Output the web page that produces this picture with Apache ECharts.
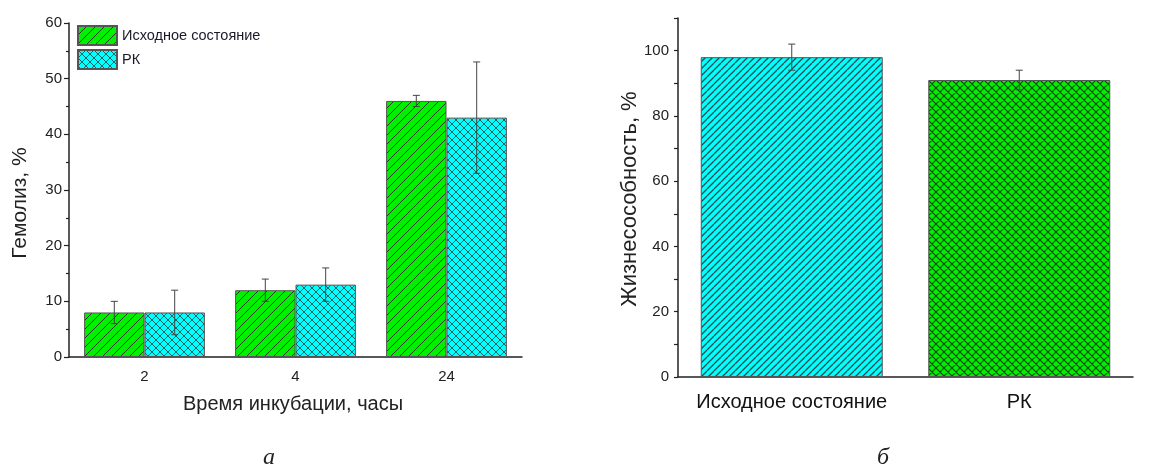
<!DOCTYPE html>
<html><head><meta charset="utf-8">
<script src="https://cdn.jsdelivr.net/npm/echarts@6/dist/echarts.min.js"></script>
<style>html,body{margin:0;padding:0;background:#fff}#c{width:1152px;height:468px}</style>
</head><body><div id="c"></div>
<script>
// ---- data ----
const hoursCategories = ['2', '4', '24'];
const hemolysisInitial = [8, 12, 46];
const hemolysisInitialErr = [2, 2, 1];
const hemolysisRK = [8, 13, 43];
const hemolysisRKErr = [4, 3, 10];

const viabilityCategories = ['Исходное состояние', 'РК'];
const viabilityValues = [98, 91];
const viabilityErr = [4, 3];

const seriesNames = ['Исходное состояние', 'РК'];

// ---- patterns ----
function makePattern(bg, line, s, cross, lw) {
  const c = document.createElement('canvas');
  c.width = s; c.height = s;
  const g = c.getContext('2d');
  g.fillStyle = bg; g.fillRect(0, 0, s, s);
  g.strokeStyle = line; g.lineWidth = lw;
  g.beginPath();
  for (let k = -1; k <= 1; k++) {
    g.moveTo(k * s, s); g.lineTo(s + k * s, 0);
    if (cross) { g.moveTo(k * s, 0); g.lineTo(s + k * s, s); }
  }
  g.stroke();
  return { image: c, repeat: 'repeat' };
}
const GREEN = '#00f000', CYAN = '#00ffff';
const pGreenHatch = makePattern(GREEN, '#1b3b1b', 9, false, 1);
const pCyanCross = makePattern(CYAN, '#1f4f4f', 8, true, 0.9);
const pCyanHatch = makePattern(CYAN, '#1a4c4c', 7, false, 1.3);
const pGreenCross = makePattern(GREEN, '#124012', 8, true, 1.1);

const FONT = 'Liberation Sans, Arial, sans-serif';
const AX = '#222';

function errRender(offsetFrac) {
  return function (params, api) {
    const x = api.value(0), v = api.value(1), e = api.value(2);
    const band = api.size([1, 0])[0];
    const c = api.coord([x, v]);
    const cx = c[0] + band * offsetFrac;
    const top = api.coord([x, v + e])[1];
    const bot = api.coord([x, v - e])[1];
    const cap = 3.5;
    const st = { stroke: '#444', lineWidth: 1 };
    return { type: 'group', children: [
      { type: 'line', shape: { x1: cx, y1: top, x2: cx, y2: bot }, style: st },
      { type: 'line', shape: { x1: cx - cap, y1: top, x2: cx + cap, y2: top }, style: st },
      { type: 'line', shape: { x1: cx - cap, y1: bot, x2: cx + cap, y2: bot }, style: st }
    ]};
  };
}

const chart = echarts.init(document.getElementById('c'), null, { renderer: 'canvas' });
const option = {
  animation: false,
  backgroundColor: '#fff',
  textStyle: { fontFamily: FONT },
  grid: [
    { left: 69, right: 630, top: 23, bottom: 111 },
    { left: 678, right: 19, top: 18, bottom: 91 }
  ],
  legend: {
    left: 77, top: 25, padding: 0, orient: 'vertical', itemWidth: 39, itemHeight: 19, itemGap: 3,
    icon: 'rect', data: seriesNames,
    textStyle: { fontFamily: FONT, fontSize: 14.5, color: '#1a1a2a' }
  },
  xAxis: [
    { type: 'category', gridIndex: 0, data: hoursCategories,
      axisLine: { lineStyle: { color: AX, width: 1.5 } },
      axisTick: { alignWithLabel: true, length: 5, lineStyle: { color: AX, width: 1.2 } },
      axisLabel: { interval: 0, fontFamily: FONT, fontSize: 15, color: '#222', margin: 12 } },
    { type: 'category', gridIndex: 0, data: hoursCategories, position: 'bottom',
      axisLine: { show: false }, axisLabel: { show: false },
      axisTick: { interval: 0, alignWithLabel: false, length: 5, lineStyle: { color: AX, width: 1.2 } } },
    { type: 'category', gridIndex: 1, data: viabilityCategories,
      axisLine: { lineStyle: { color: AX, width: 1.5 } },
      axisTick: { interval: 0, alignWithLabel: true, length: 6, lineStyle: { color: AX, width: 1.2 } },
      axisLabel: { interval: 0, fontFamily: FONT, fontSize: 20, color: '#111', margin: 15 } },
    { type: 'category', gridIndex: 1, data: viabilityCategories, position: 'bottom',
      axisLine: { show: false }, axisLabel: { show: false },
      axisTick: { interval: 0, alignWithLabel: false, length: 6, lineStyle: { color: AX, width: 1.2 } } }
  ],
  yAxis: [
    { type: 'value', gridIndex: 0, min: 0, max: 60, interval: 10,
      splitLine: { show: false },
      axisLine: { show: true, lineStyle: { color: AX, width: 1.5 } },
      axisTick: { show: true, length: 5, lineStyle: { color: AX, width: 1.2 } },
      minorTick: { show: true, splitNumber: 2, length: 3, lineStyle: { color: AX, width: 1.2 } },
      axisLabel: { fontFamily: FONT, fontSize: 15, color: '#222', margin: 7 } },
    { type: 'value', gridIndex: 1, min: 0, max: 110, interval: 10,
      splitLine: { show: false },
      axisLine: { show: true, lineStyle: { color: AX, width: 1.5 } },
      axisTick: { show: true, length: 4, lineStyle: { color: AX, width: 1.2 } },
      axisLabel: { fontFamily: FONT, fontSize: 15, color: '#222', margin: 9,
        formatter: v => (v % 20 === 0 && v <= 100) ? String(v) : '' } }
  ],
  series: [
    { name: seriesNames[0], type: 'bar', xAxisIndex: 0, yAxisIndex: 0, data: hemolysisInitial,
      barGap: '0%', barCategoryGap: '20%',
      itemStyle: { color: pGreenHatch, borderColor: '#555', borderWidth: 1 } },
    { name: seriesNames[1], type: 'bar', xAxisIndex: 0, yAxisIndex: 0, data: hemolysisRK,
      barGap: '0%', barCategoryGap: '20%',
      itemStyle: { color: pCyanCross, borderColor: '#555', borderWidth: 1 } },
    { type: 'custom', xAxisIndex: 0, yAxisIndex: 0, z: 5, silent: true,
      renderItem: errRender(-0.2),
      data: hemolysisInitial.map((v, i) => [i, v, hemolysisInitialErr[i]]) },
    { type: 'custom', xAxisIndex: 0, yAxisIndex: 0, z: 5, silent: true,
      renderItem: errRender(0.2),
      data: hemolysisRK.map((v, i) => [i, v, hemolysisRKErr[i]]) },
    { type: 'bar', xAxisIndex: 2, yAxisIndex: 1, barCategoryGap: '20%',
      data: viabilityValues.map((v, i) => ({ value: v,
        itemStyle: { color: i === 0 ? pCyanHatch : pGreenCross, borderColor: '#555', borderWidth: 1 } })) },
    { type: 'custom', xAxisIndex: 2, yAxisIndex: 1, z: 5, silent: true,
      renderItem: errRender(0),
      data: viabilityValues.map((v, i) => [i, v, viabilityErr[i]]) }
  ],
  graphic: [
    { type: 'text', x: 20, y: 203, rotation: Math.PI / 2,
      style: { text: 'Гемолиз, %', font: '21px ' + FONT, fill: '#222', align: 'center', verticalAlign: 'middle' } },
    { type: 'text', x: 293, y: 404,
      style: { text: 'Время инкубации, часы', font: '20px ' + FONT, fill: '#222', align: 'center', verticalAlign: 'middle' } },
    { type: 'text', x: 630, y: 199, rotation: Math.PI / 2,
      style: { text: 'Жизнесособность, %', font: '22px ' + FONT, fill: '#222', align: 'center', verticalAlign: 'middle' } },
    { type: 'text', x: 269, y: 458,
      style: { text: 'а', font: 'italic 24px Liberation Serif, serif', fill: '#222', align: 'center', verticalAlign: 'middle' } },
    { type: 'text', x: 883, y: 458,
      style: { text: 'б', font: 'italic 24px Liberation Serif, serif', fill: '#222', align: 'center', verticalAlign: 'middle' } }
  ]
};
chart.setOption(option);
</script></body></html>
